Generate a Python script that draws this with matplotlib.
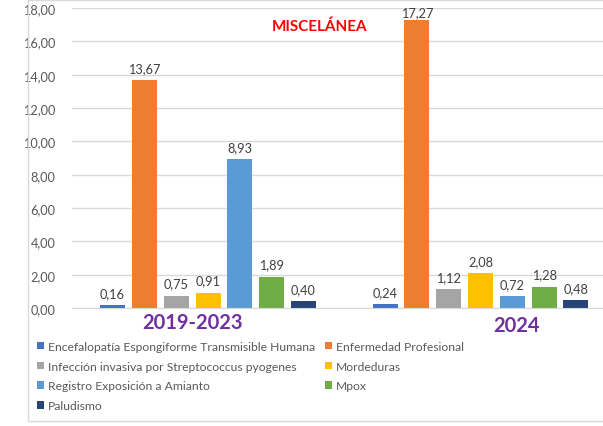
import matplotlib
matplotlib.use("Agg")
import matplotlib.pyplot as plt
from matplotlib.patches import Rectangle, Patch
import numpy as np

groups = ["2019-2023", "2024"]
series = [
    "Encefalopatía Espongiforme Transmisible Humana",
    "Enfermedad Profesional",
    "Infección invasiva por Streptococcus pyogenes",
    "Mordeduras",
    "Registro Exposición a Amianto",
    "Mpox",
    "Paludismo",
]
values_2019_2023 = [0.16, 13.67, 0.75, 0.91, 8.93, 1.89, 0.40]
values_2024 = [0.24, 17.27, 1.12, 2.08, 0.72, 1.28, 0.48]
colors = ["#4472C4", "#ED7D31", "#A5A5A5", "#FFC000", "#5B9BD5", "#70AD47", "#264478"]
yticks = [0, 2, 4, 6, 8, 10, 12, 14, 16, 18]
title = "MISCELÁNEA"

plt.rcParams['font.family'] = ['Lato', 'DejaVu Sans']

W, H = 603, 427
fig = plt.figure(figsize=(W / 100, H / 100), dpi=100)

# chart frame
fig.patches.append(Rectangle((28 / W, (H - 422) / H), 1.0, 421 / H,
                             transform=fig.transFigure, fill=False,
                             edgecolor="#d9d9d9", linewidth=1.0))

ax_left, ax_right = 72 / W, 1.0
ax_bottom, ax_top = (H - 309) / H, (H - 9) / H
ax = fig.add_axes([ax_left, ax_bottom, ax_right - ax_left, ax_top - ax_bottom])

unit = 272.5
c0 = 208.0
ax.set_xlim((72 - c0) / unit, (603 - c0) / unit)
ax.set_ylim(0, 18)

n = len(series)
step = 31.8 / unit
bw = 25.0 / unit
data = np.array([values_2019_2023, values_2024])
x = np.arange(len(groups))
for i in range(n):
    pos = x + (i - (n - 1) / 2) * step
    ax.bar(pos, data[:, i], width=bw, color=colors[i], zorder=3)
    for xp, v in zip(pos, data[:, i]):
        off = 4.5 if v < 17 else 1.5
        ax.annotate(f"{v:.2f}".replace(".", ","), (xp, v), xytext=(0, off),
                    textcoords="offset points", ha="center", va="bottom",
                    fontsize=9.2, color="#404040")

ax.set_yticks(yticks)
ax.set_yticklabels([f"{t:.2f}".replace(".", ",") for t in yticks],
                   fontsize=9.2, color="#595959")
ax.tick_params(axis="y", length=0, pad=12)
ax.set_xticks([])
ax.grid(axis="y", color="#d9d9d9", linewidth=1, zorder=0)
for s in ["left", "right", "top"]:
    ax.spines[s].set_visible(False)
ax.spines["bottom"].set_color("#d9d9d9")
ax.spines["bottom"].set_zorder(4)

fig.text(320 / W, (H - 27) / H, title, color="#FF0000", fontweight="bold",
         fontsize=11, ha="center", va="center")
fig.text(192.5 / W, (H - 323) / H, groups[0], color="#7030A0", fontweight="bold",
         fontsize=14.5, ha="center", va="center")
fig.text(517 / W, (H - 326) / H, groups[1], color="#7030A0", fontweight="bold",
         fontsize=14.5, ha="center", va="center")

# legend: row-major order -> reorder for column-major filling
order = [0, 2, 4, 6, 1, 3, 5]
leg_handles = [Patch(facecolor=colors[i]) for i in order]
leg_labels = [series[i] for i in order]
fig.legend(leg_handles, leg_labels, ncol=2, loc="upper left",
           bbox_to_anchor=(37 / W, (H - 342) / H), frameon=False,
           fontsize=8.7, labelcolor="#595959", handlelength=0.58, handleheight=0.58,
           handletextpad=0.33, columnspacing=0.8, labelspacing=0.72,
           borderaxespad=0, borderpad=0)

fig.savefig("out.png", dpi=100)
